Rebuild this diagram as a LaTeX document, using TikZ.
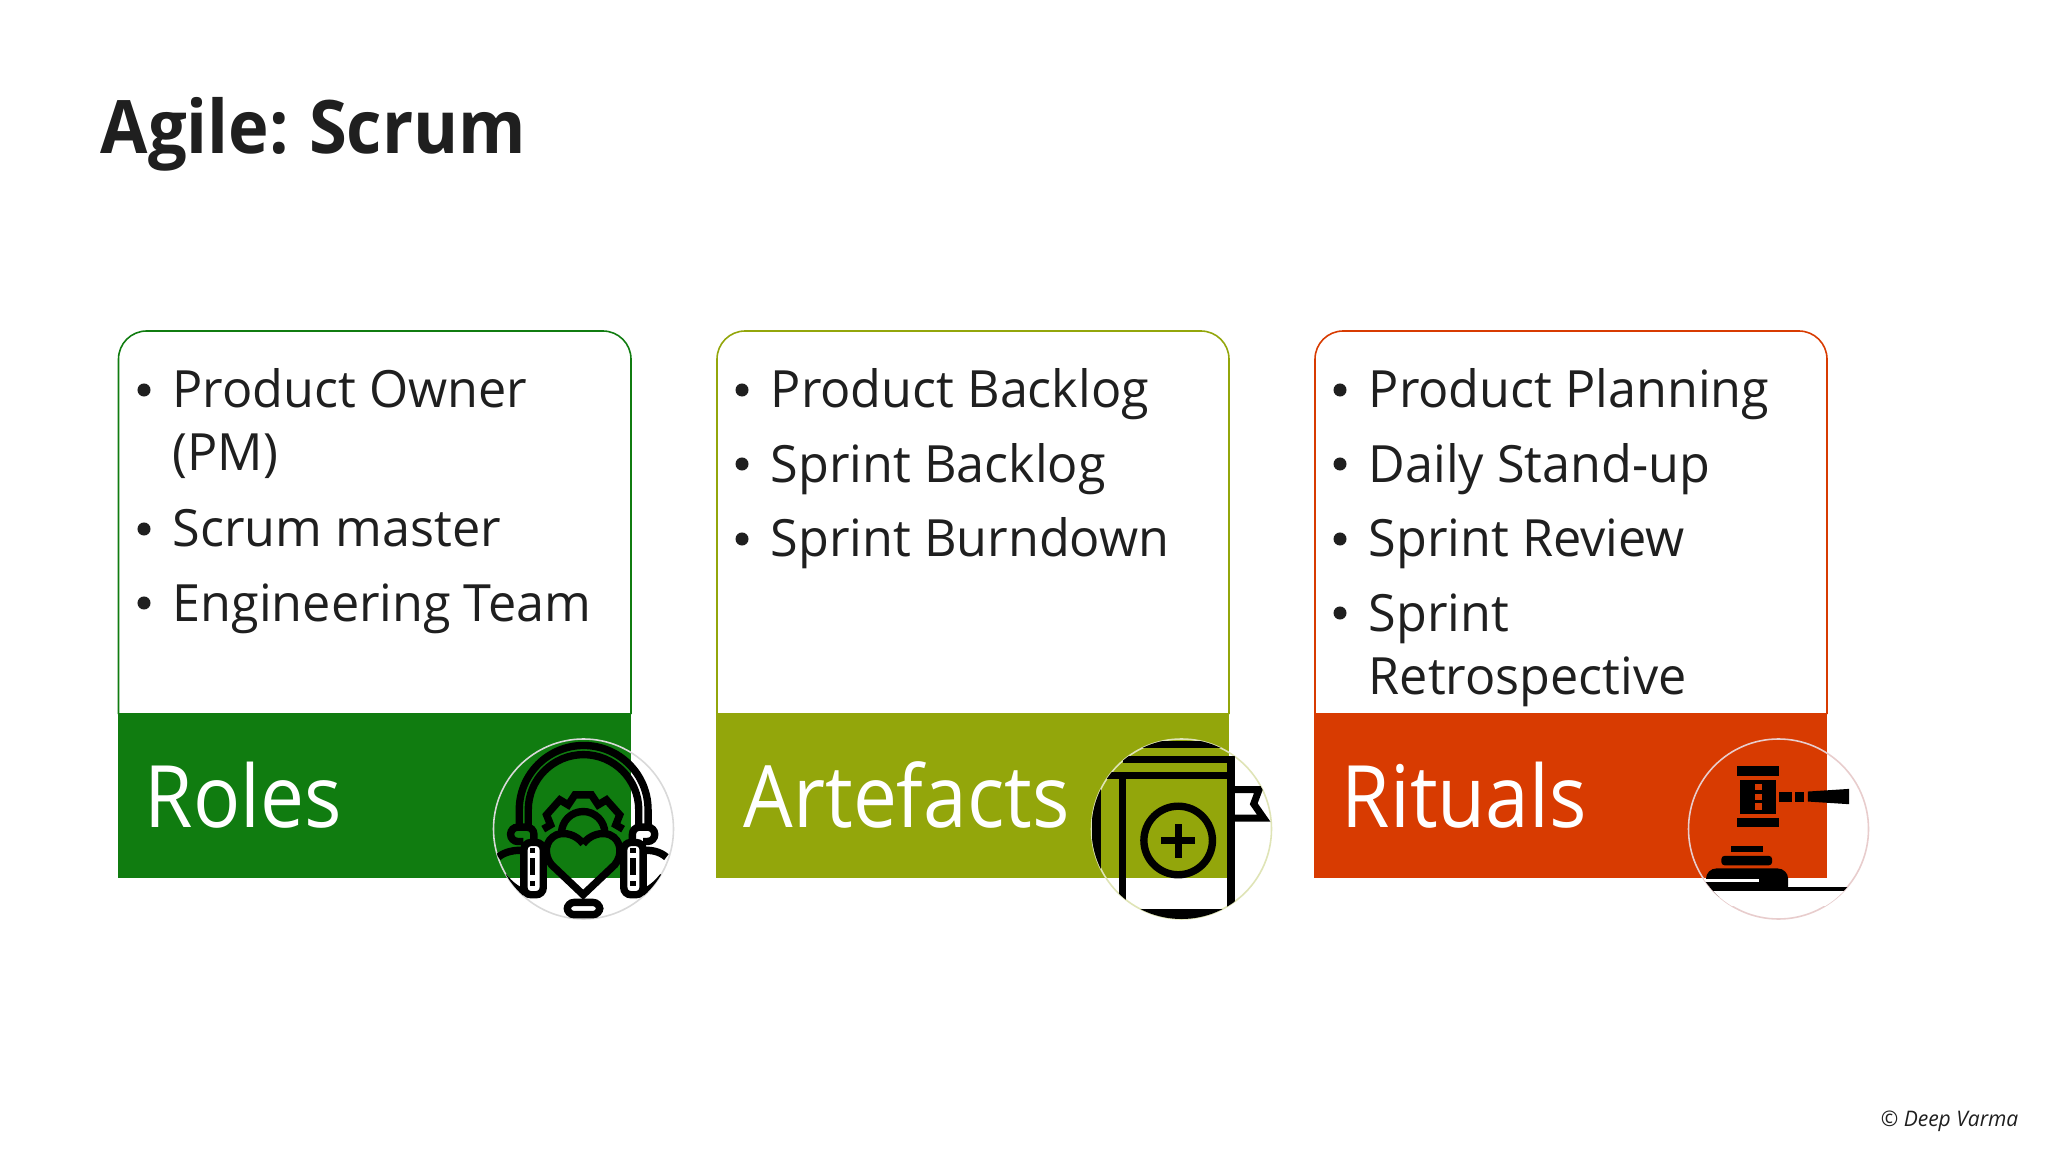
\documentclass[tikz,border=0pt]{standalone}
\usepackage{fontspec}
\setmainfont[FakeStretch=0.98]{Open Sans}
\newfontfamily\bandfont[FakeStretch=0.91]{Open Sans}
\newfontfamily\titlefont[FakeStretch=0.93,WordSpace=0.8]{Open Sans}
\definecolor{inkblack}{HTML}{1F1F1F}
\definecolor{rolesgreen}{HTML}{107C10}
\definecolor{artolive}{HTML}{93A60B}
\definecolor{ritualred}{HTML}{D83B01}
\tikzset{item/.style={anchor=base west,inner sep=0pt,text=inkblack,font=\fontsize{14.6}{16}\selectfont},
         dot/.style={circle,fill=inkblack,minimum size=3.7pt,inner sep=0pt},
         bandlabel/.style={anchor=base west,inner sep=0pt,text=white,font=\bandfont\fontsize{24.5}{28}\selectfont},
         card/.style={line width=0.45pt,rounded corners=8pt},
         ring/.style={line width=0.45pt},
         stroke/.style={line width=2.1pt},
        }

\begin{document}
\begin{tikzpicture}[x=0.01cm,y=-0.01cm]
        \useasboundingbox[fill=white](0,0)rectangle(2048,1152);
        \node[anchor=base west,inner sep=0pt,text=inkblack,font=\titlefont\fontsize{21}{24}\selectfont\bfseries](title)at(100,154){Agile: Scrum};

        % cards
        \draw[card,rolesgreen](118.5,714)--(118.5,331)--(631,331)--(631,714);
        \draw[card,artolive](717,714)--(717,331)--(1229,331)--(1229,714);
        \draw[card,ritualred](1315,714)--(1315,331)--(1827,331)--(1827,714);
        \fill[rolesgreen](118,713)rectangle(631,878);
        \fill[artolive](716,713)rectangle(1229,878);
        \fill[ritualred](1314,713)rectangle(1827,878);

        \node[bandlabel](roles)at(144,827){Roles};
        \node[bandlabel](artefacts)at(743,827){Artefacts};
        \node[bandlabel](rituals)at(1341,827){Rituals};

        % roles list
        \node[dot](d1)at(144,390){};
        \node[item](r1)at(172,408){Product Owner};
        \node[item](r1b)at(172,471){(PM)};
        \node[dot](d2)at(144,529){};
        \node[item](r2)at(172,547){Scrum master};
        \node[dot](d3)at(144,603){};
        \node[item](r3)at(172,621){Engineering Team};

        % artefacts list
        \node[dot](d4)at(742,390){};
        \node[item](a1)at(770,408){Product Backlog};
        \node[dot](d5)at(742,464){};
        \node[item](a2)at(770,482){Sprint Backlog};
        \node[dot](d6)at(742,539){};
        \node[item](a3)at(770,557){Sprint Burndown};

        % rituals list
        \node[dot](d7)at(1340,390){};
        \node[item](t1)at(1368,408){Product Planning};
        \node[dot](d8)at(1340,464){};
        \node[item](t2)at(1368,482){Daily Stand-up};
        \node[dot](d9)at(1340,539){};
        \node[item](t3)at(1368,557){Sprint Review};
        \node[dot](d10)at(1340,613){};
        \node[item](t4)at(1368,631){Sprint};
        \node[item](t4b)at(1368,695){Retrospective};

        % roles icon
        \draw[ring,black!15](583.5,829)circle(90);
        \begin{scope}
            \clip(583.5,829)circle(90);
            \begin{scope}[shift={(480,720)},x=0.00333cm,y=-0.00333cm,stroke]
                \draw(118,315)--(118,270)arc(180:360:193.5)--(505,315);
                \draw(145,315)--(145,270)arc(180:360:166)--(477,315);
                \draw[rounded corners=2pt](130,365)--(92,365)--(92,322)--(162,322)--(162,365);
                \draw[rounded corners=2pt](458,365)--(458,322)--(525,322)--(525,365)--(490,365);
                \draw[rounded corners=2pt,fill=white](132,368)rectangle(190,525);
                \draw[rounded corners=2pt,fill=white](432,368)rectangle(490,525);
                \fill(149,385)rectangle(166,400);\fill(149,415)rectangle(166,465);\fill(149,485)rectangle(166,500);
                \fill(452,385)rectangle(469,400);\fill(452,415)rectangle(469,465);\fill(452,485)rectangle(469,500);
                \draw(55,412)..controls(75,395)and(105,390)..(132,392);
                \draw(70,470)..controls(90,495)and(110,510)..(132,518);
                \draw(490,392)..controls(515,390)and(540,395)..(560,412);
                \draw(490,518)..controls(510,510)and(530,495)..(550,470);
                \draw(310,372)..controls(290,345)and(255,335)..(230,345)..controls(195,360)and(190,405)..(215,435)--(310,525)--(405,435)..controls(430,405)and(425,360)..(390,345)..controls(365,335)and(330,345)..(310,372);
                \draw(190,328)--(212,315)--(200,285)--(240,240)--(265,255)--(285,225)--(335,225)--(355,255)--(380,240)--(420,285)--(408,315)--(430,328);
                \draw(245,340)arc(180:360:65);
                \draw[rounded corners=2pt](262,548)rectangle(360,585);
            \end{scope}
        \end{scope}

        % artefacts icon
        \draw[ring,artolive!30](1181.5,829)circle(90);
        \begin{scope}
            \clip(1181.5,829)circle(90);
            \begin{scope}[shift={(1080,720)},x=0.00333cm,y=-0.00333cm]
                \fill(100,62)rectangle(500,85);
                \fill(130,108)rectangle(465,130);
                \fill(30,155)rectangle(465,178);
                \fill(117,155)rectangle(137,620);
                \fill(35,180)rectangle(62,500);
                \fill(443,108)rectangle(465,620);
                \fill(100,568)rectangle(500,600);
                \draw[line width=2pt](465,209)--(538,209)--(522,252)--(552,295)--(465,295);
                \draw[line width=2.1pt](295,362)circle(103);
                \fill(243,352)rectangle(347,374);
                \fill(284,312)rectangle(306,416);
            \end{scope}
        \end{scope}

        % rituals icon
        \draw[ring,pink!70!gray!60](1778.5,829)circle(90);
        \begin{scope}
            \clip(1778.5,829)circle(90);
            \begin{scope}[shift={(1680,720)},x=0.00333cm,y=-0.00333cm]
                \fill(172,139)rectangle(297,168);
                \fill(181,180)rectangle(288,282);
                \fill(172,293)rectangle(297,322);
                \fill[ritualred](225,193)rectangle(245,211);
                \fill[ritualred](225,221)rectangle(245,240);
                \fill[ritualred](225,250)rectangle(245,269);
                \fill(298,216)rectangle(335,245);
                \fill(346,216)rectangle(373,245);
                \fill(384,215)--(508,207)--(508,253)--(384,245)--cycle;
                \fill(153,380)rectangle(248,398);
                \fill[rounded corners=1pt](124,437)--(124,408)--(277,408)--(277,437)--cycle;
                \fill[rounded corners=3pt](78,530)--(78,446)--(325,446)--(325,530)--cycle;
                \fill(40,503)rectangle(560,514);
                \fill[white](60,477)rectangle(238,486);
                \fill[white](40,514)rectangle(560,560);
            \end{scope}
        \end{scope}

        \node[anchor=base east,inner sep=0pt,text=inkblack,font=\fontsize{6.1}{7}\selectfont\itshape](credit)at(2019,1126){© Deep Varma};
    \end{tikzpicture}
\end{document}
